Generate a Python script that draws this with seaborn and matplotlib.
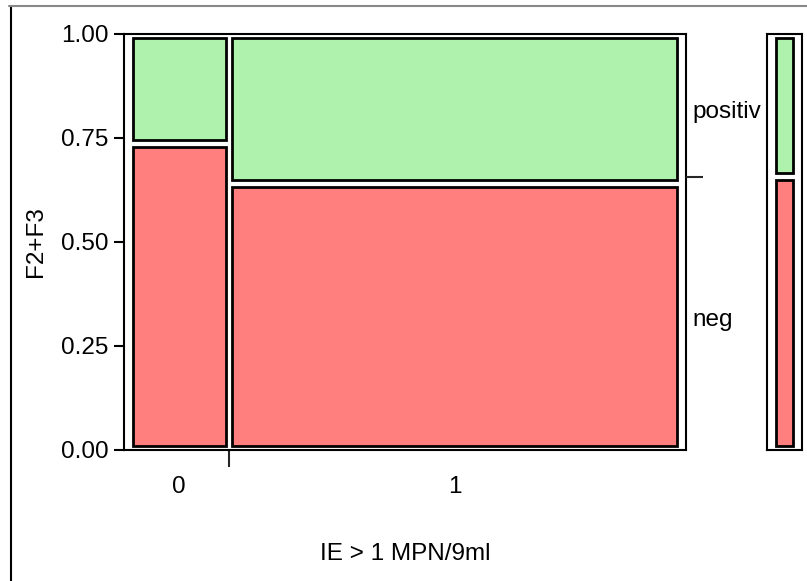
import numpy as np
import pandas as pd
import seaborn as sns
import matplotlib.pyplot as plt
from matplotlib.lines import Line2D

# mosaic data: IE > 1 MPN/9ml (x) vs F2+F3 (y)
groups = ['0', '1']
group_share = [0.18, 0.82]
levels = ['neg', 'positiv']
neg_share = [0.736, 0.640]

colors = {'neg': '#ff7f7f', 'positiv': '#aef2ae'}

sns.set_theme(style='white')
plt.rcParams['font.family'] = ['Liberation Sans', 'DejaVu Sans']
fs = 17.5

df = pd.DataFrame({'group': groups, 'share': group_share, 'neg': neg_share})
df['left'] = np.cumsum([0] + group_share[:-1])
df['right'] = df['left'] + df['share']
overall_neg = float((df['share'] * df['neg']).sum())

fig = plt.figure(figsize=(8.07, 5.81), dpi=100)
ax = fig.add_axes([0.1537, 0.2255, 0.6964, 0.716])
axm = fig.add_axes([0.9504, 0.2255, 0.0434, 0.716])

g = 0.0055   # horizontal gap between columns
vg = 0.0085  # vertical gap between cells

for _, r in df.iterrows():
    w = r['right'] - r['left'] - 2 * g
    ax.bar(r['left'] + g, r['neg'] - 2 * vg, width=w, bottom=vg, align='edge',
           color=colors['neg'], edgecolor='black', linewidth=2)
    ax.bar(r['left'] + g, 1 - r['neg'] - 2 * vg, width=w, bottom=r['neg'] + vg,
           align='edge', color=colors['positiv'], edgecolor='black', linewidth=2)

ax.set_xlim(-0.01, 1.01)
ax.set_ylim(0, 1)
ax.set_yticks([0, 0.25, 0.5, 0.75, 1.0])
ax.set_yticklabels(['0.00', '0.25', '0.50', '0.75', '1.00'])
ax.tick_params(axis='y', left=True, length=7, width=1.5, pad=4, labelsize=fs, colors='black')
ax.set_xticks(((df['left'] + df['right']) / 2).tolist())
ax.set_xticklabels(groups)
ax.set_xticks(df['right'].tolist()[:-1], minor=True)
ax.tick_params(axis='x', which='major', length=0, pad=19, labelsize=fs, colors='black')
ax.tick_params(axis='x', which='minor', bottom=True, length=12, width=1.5)
ax.set_ylabel('F2+F3', fontsize=fs, color='black', labelpad=10)
ax.set_xlabel('IE > 1 MPN/9ml', fontsize=fs, color='black', labelpad=32)
for s in ax.spines.values():
    s.set_color('black')
    s.set_linewidth(1.5)

# right side: overall split tick and level labels
ax2 = ax.twinx()
ax2.set_ylim(0, 1)
ax2.set_yticks([overall_neg])
ax2.set_yticklabels([''])
ax2.tick_params(axis='y', which='major', right=True, length=12, width=1.5)
for s in ax2.spines.values():
    s.set_visible(False)
for lev, y in zip(levels, [overall_neg / 2, (1 + overall_neg) / 2]):
    ax.annotate(lev, xy=(1, y), xycoords=('axes fraction', 'data'), xytext=(4.5, -5),
                textcoords='offset points', ha='left', va='center', fontsize=fs,
                color='black')

# marginal bar
axm.bar(0.26, overall_neg - 2 * vg, width=0.48, bottom=vg, align='edge',
        color=colors['neg'], edgecolor='black', linewidth=2)
axm.bar(0.26, 1 - overall_neg - 2 * vg, width=0.48, bottom=overall_neg + vg, align='edge',
        color=colors['positiv'], edgecolor='black', linewidth=2)
axm.set_xlim(0, 1)
axm.set_ylim(0, 1)
axm.set_xticks([])
axm.set_yticks([])
for s in axm.spines.values():
    s.set_color('black')
    s.set_linewidth(1.5)

# outer frame
fig.add_artist(Line2D([11 / 807, 11 / 807], [0, 1 - 6 / 581], color='black', linewidth=1.5))
fig.add_artist(Line2D([9 / 807, 1], [1 - 6 / 581, 1 - 6 / 581], color='#888888', linewidth=1.5))

fig.savefig('out.png', dpi=100)
